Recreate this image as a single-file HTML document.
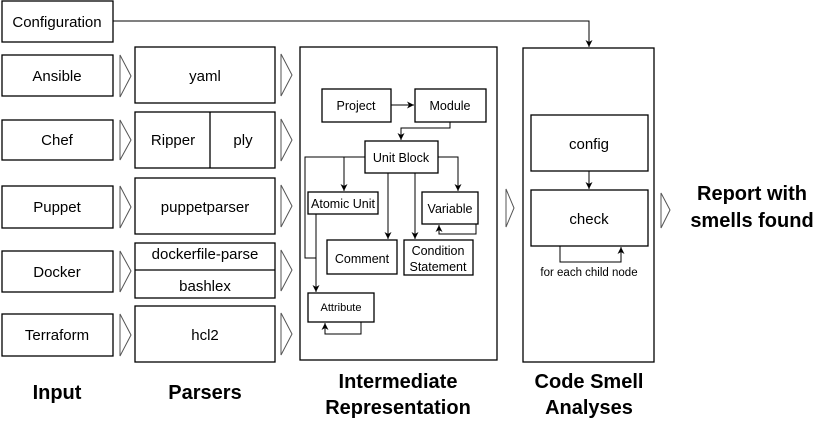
<!DOCTYPE html>
<html><head><style>body{margin:0;background:#fff}svg{display:block}</style></head><body>
<svg width="830" height="424" viewBox="0 0 830 424" xmlns="http://www.w3.org/2000/svg" font-family="Liberation Sans, Arial, sans-serif">
<defs><marker id="a" markerWidth="8" markerHeight="8" refX="7" refY="4" orient="auto" markerUnits="userSpaceOnUse"><path d="M0,0.5 L7,4 L0,7.5 L2,4 Z" fill="#000"/></marker></defs>
<g fill="none" stroke="#000" stroke-width="1.3">
<rect x="2" y="1" width="111" height="41"/>
<rect x="2" y="55" width="111" height="41"/>
<rect x="2" y="120" width="111" height="40"/>
<rect x="2" y="186" width="111" height="42"/>
<rect x="2" y="251" width="111" height="41"/>
<rect x="2" y="314" width="111" height="42"/>
<rect x="135" y="47" width="140" height="56"/>
<rect x="135" y="112" width="140" height="56"/>
<line x1="210" y1="112" x2="210" y2="168"/>
<rect x="135" y="178" width="140" height="56"/>
<rect x="135" y="243" width="140" height="55"/>
<line x1="135" y1="270" x2="275" y2="270"/>
<rect x="135" y="306" width="140" height="56"/>
<rect x="300" y="47" width="197" height="313"/>
<rect x="523" y="48" width="131" height="314"/>
<rect x="531" y="115" width="117" height="56"/>
<rect x="531" y="190" width="117" height="56"/>
<rect x="322" y="89" width="69" height="33"/>
<rect x="415" y="89" width="71" height="33"/>
<rect x="365" y="141" width="73" height="32"/>
<rect x="308" y="192" width="70" height="22"/>
<rect x="422" y="192" width="56" height="32"/>
<rect x="327" y="240" width="70" height="34"/>
<rect x="404" y="240" width="69" height="35"/>
<rect x="308" y="293" width="66" height="29"/>
</g>
<g fill="none" stroke="#555" stroke-width="1">
<path d="M120,55 L131,76 L120,97 Z"/><path d="M120,120 L131,140 L120,160 Z"/><path d="M120,186 L131,207 L120,228 Z"/><path d="M120,251 L131,271 L120,292 Z"/><path d="M120,314 L131,335 L120,356 Z"/>
<path d="M281,54 L292,75 L281,96 Z"/><path d="M281,119 L292,140 L281,161 Z"/><path d="M281,185 L292,206 L281,227 Z"/><path d="M281,250 L292,270 L281,291 Z"/><path d="M281,313 L292,334 L281,355 Z"/>
<path d="M506,189 L514,208 L506,227 Z"/><path d="M661,193 L670,210 L661,228 Z"/>
</g>
<g fill="none" stroke="#000" stroke-width="1">
<path d="M113,21 H589 V47" marker-end="url(#a)"/>
<path d="M391,105 H414" marker-end="url(#a)"/>
<path d="M450,122 V128 H401 V140" marker-end="url(#a)"/>
<path d="M365,157 H305 V258 H316"/>
<path d="M316,214 V292" marker-end="url(#a)"/>
<path d="M344,157 V191" marker-end="url(#a)"/>
<path d="M388,173 V239" marker-end="url(#a)"/>
<path d="M415,173 V239" marker-end="url(#a)"/>
<path d="M438,157 H458 V191" marker-end="url(#a)"/>
<path d="M476,224 V234 H439 V225" marker-end="url(#a)"/>
<path d="M361,322 V334 H325 V323" marker-end="url(#a)"/>
<path d="M589,171 V189" marker-end="url(#a)"/>
<path d="M560,246 V262 H621 V247" marker-end="url(#a)"/>
</g>
<g font-size="15" text-anchor="middle" fill="#000">
<text x="57" y="27">Configuration</text>
<text x="57" y="81">Ansible</text>
<text x="57" y="145">Chef</text>
<text x="57" y="212">Puppet</text>
<text x="57" y="277">Docker</text>
<text x="57" y="340">Terraform</text>
<text x="205" y="81">yaml</text>
<text x="173" y="145">Ripper</text>
<text x="243" y="145">ply</text>
<text x="205" y="212">puppetparser</text>
<text x="205" y="259">dockerfile-parse</text>
<text x="205" y="291">bashlex</text>
<text x="205" y="340">hcl2</text>
<text x="589" y="149">config</text>
<text x="589" y="224">check</text>
</g>
<g font-size="12.5" text-anchor="middle" fill="#000">
<text x="356" y="110">Project</text>
<text x="450" y="110">Module</text>
<text x="401" y="162">Unit Block</text>
<text x="343" y="208">Atomic Unit</text>
<text x="450" y="213">Variable</text>
<text x="362" y="263">Comment</text>
<text x="438" y="255">Condition</text>
<text x="438" y="271">Statement</text>
<text x="341" y="311" font-size="11">Attribute</text>
<text x="589" y="276" font-size="11.5">for each child node</text>
</g>
<g font-size="20" font-weight="bold" text-anchor="middle" fill="#000">
<text x="57" y="399">Input</text>
<text x="205" y="399">Parsers</text>
<text x="398" y="388">Intermediate</text>
<text x="398" y="414">Representation</text>
<text x="589" y="388">Code Smell</text>
<text x="589" y="414">Analyses</text>
<text x="752" y="200">Report with</text>
<text x="752" y="227">smells found</text>
</g>
</svg>
</body></html>
